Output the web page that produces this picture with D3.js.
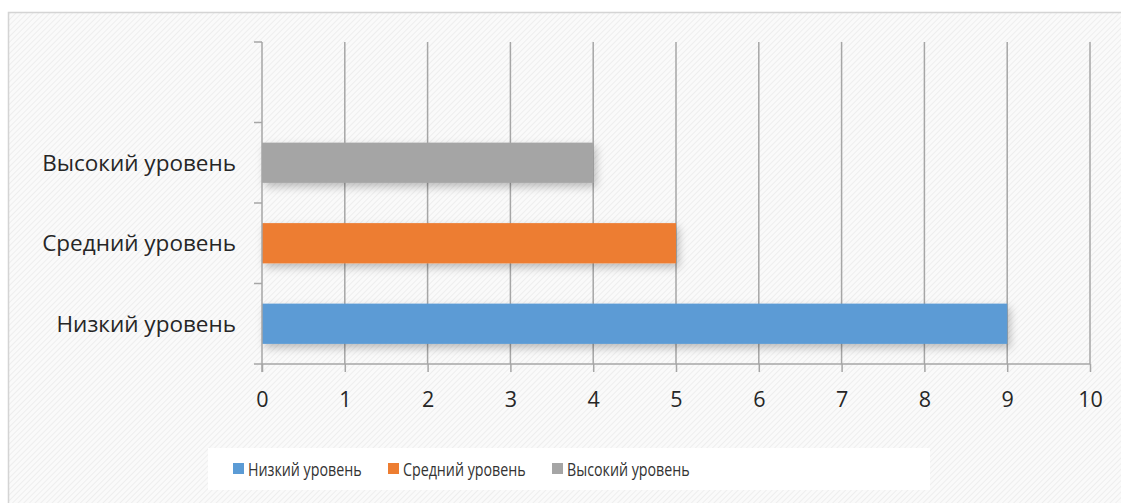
<!DOCTYPE html>
<html>
<head>
<meta charset="utf-8">
<script src="https://cdn.jsdelivr.net/npm/d3@7"></script>
<style>
body { margin: 0; background: #fff; }
svg text { font-family: "Open Sans", sans-serif; }
</style>
</head>
<body>
<div id="plot"></div>
<script>
let categories = ['Низкий уровень', 'Средний уровень', 'Высокий уровень'];
let values = [9, 5, 4];
let colors = ['#5b9bd5', '#ed7d31', '#a5a5a5'];
let xTicks = [0, 1, 2, 3, 4, 5, 6, 7, 8, 9, 10];

let width = 1121, height = 503;
let pLeft = 262, pRight = 1090, pTop = 42, pBottom = 364;

let svg = d3.select('#plot').append('svg').attr('width', width).attr('height', height);

let defs = svg.append('defs');
let pat = defs.append('pattern').attr('id', 'hatch').attr('patternUnits', 'userSpaceOnUse')
  .attr('width', 4).attr('height', 4).attr('patternTransform', 'rotate(45)');
pat.append('rect').attr('width', 4).attr('height', 4).attr('fill', '#fafafa');
pat.append('line').attr('x1', 0).attr('y1', 0).attr('x2', 0).attr('y2', 4)
  .attr('stroke', '#ebebeb').attr('stroke-width', 1.5);

let shadow = defs.append('filter').attr('id', 'shadow').attr('x', '-5%').attr('y', '-50%').attr('width', '115%').attr('height', '220%');
shadow.append('feDropShadow').attr('dx', 3).attr('dy', 4).attr('stdDeviation', 4)
  .attr('flood-color', '#000').attr('flood-opacity', 0.25);

svg.append('rect').attr('x', 8.5).attr('y', 12.5).attr('width', width).attr('height', height)
  .attr('fill', 'url(#hatch)').attr('stroke', '#d4d4d4').attr('stroke-width', 1.5);

let x = d3.scaleLinear().domain([0, 10]).range([pLeft, pRight]);
// top slot stays empty, like in the original
let y = d3.scaleBand().domain([...categories, '']).range([pBottom, pTop]).paddingInner(0.5).paddingOuter(0.25);

// vertical gridlines
svg.append('g').selectAll('line').data(xTicks.slice(1)).join('line')
  .attr('x1', d => x(d)).attr('x2', d => x(d)).attr('y1', pTop).attr('y2', pBottom)
  .attr('stroke', '#a6a6a6').attr('stroke-width', 1.5);

// bars
svg.append('g').selectAll('rect').data(categories).join('rect')
  .attr('x', x(0)).attr('y', d => y(d))
  .attr('width', (d, i) => x(values[i]) - x(0)).attr('height', y.bandwidth())
  .attr('fill', (d, i) => colors[i]).attr('filter', 'url(#shadow)');

// x axis
let xAxis = svg.append('g').attr('transform', `translate(0,${pBottom})`)
  .call(d3.axisBottom(x).tickValues(xTicks).tickSize(8).tickPadding(20).tickFormat(d3.format('d')));
xAxis.select('.domain').attr('stroke', '#a6a6a6').attr('stroke-width', 1.5).attr('d', `M${pLeft},0H${pRight}`);
xAxis.selectAll('.tick line').attr('stroke', '#a6a6a6').attr('stroke-width', 1.5);
xAxis.selectAll('.tick text').attr('fill', '#262626').style('font-size', '21.5px');

// y axis: ticks between categories
let step = (pBottom - pTop) / 4;
let bounds = d3.range(5).map(i => pTop + i * step);
let yAxis = svg.append('g');
yAxis.append('line').attr('x1', pLeft).attr('x2', pLeft).attr('y1', pTop).attr('y2', pBottom + 8)
  .attr('stroke', '#a6a6a6').attr('stroke-width', 1.5);
yAxis.selectAll('.yt').data(bounds).join('line').attr('class', 'yt')
  .attr('x1', pLeft - 8).attr('x2', pLeft).attr('y1', d => d).attr('y2', d => d)
  .attr('stroke', '#a6a6a6').attr('stroke-width', 1.5);
yAxis.selectAll('text').data(categories).join('text')
  .attr('x', 236).attr('y', d => y(d) + y.bandwidth() / 2).attr('dy', '0.35em')
  .attr('text-anchor', 'end').attr('fill', '#262626').style('font-size', '22.5px')
  .text(d => d);

// legend
let legend = svg.append('g');
legend.append('rect').attr('x', 208).attr('y', 448).attr('width', 722).attr('height', 42).attr('fill', '#ffffff');
let legendX = [233, 388, 552];
let items = legend.selectAll('g').data(categories).join('g')
  .attr('transform', (d, i) => `translate(${legendX[i]},469)`);
items.append('rect').attr('x', 0).attr('y', -6).attr('width', 11).attr('height', 11)
  .attr('fill', (d, i) => colors[i]);
// narrow face in the original: squeeze the text horizontally
items.append('text').attr('transform', 'translate(15,0) scale(0.75,1)').attr('dy', '0.35em').attr('fill', '#333')
  .style('font-size', '19px').text(d => d);
</script>
</body>
</html>
